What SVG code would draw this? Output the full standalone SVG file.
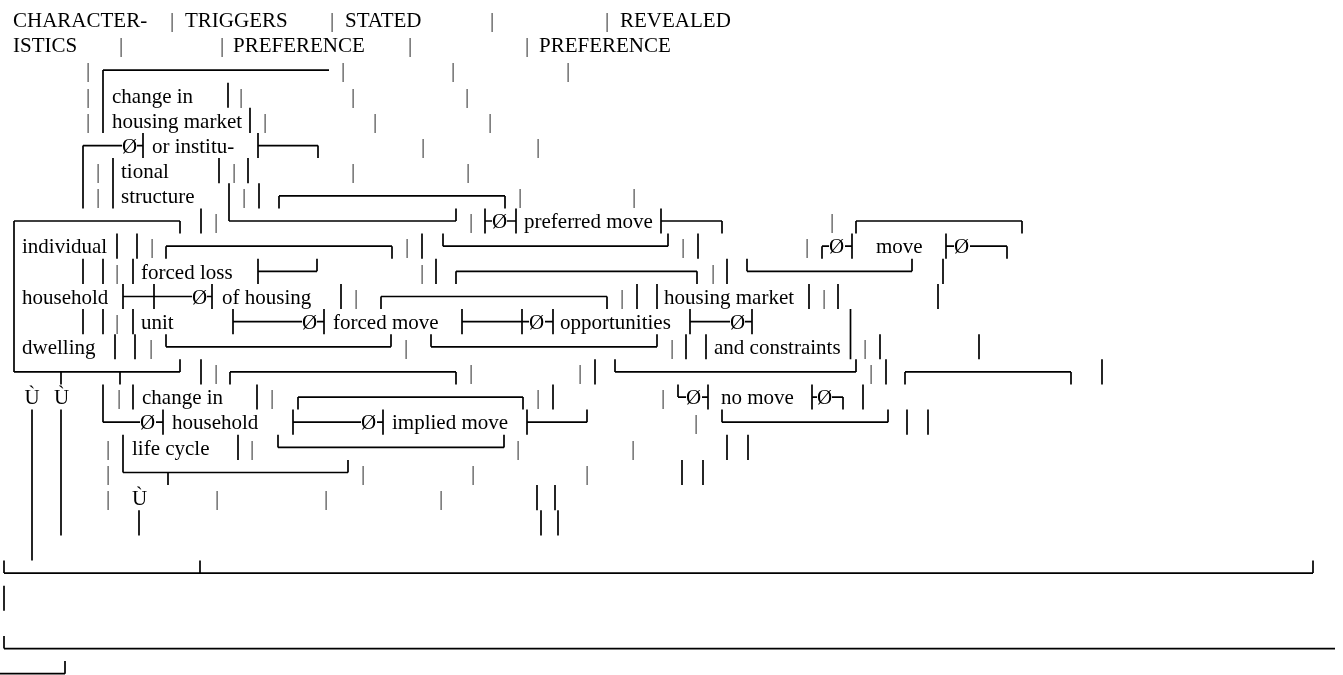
<svg xmlns="http://www.w3.org/2000/svg" width="1343" height="675" viewBox="0 0 1343 675">
<style>
.t{font-family:'Liberation Serif','Times New Roman','DejaVu Serif',serif;font-size:21px;fill:#000}
.p{text-anchor:middle;fill:#333}
.c{stroke:#000;stroke-width:1.7;fill:none}
</style>
<defs>
<filter id="gray" filterUnits="userSpaceOnUse" x="0" y="0" width="1343" height="675"><feOffset dx="0" dy="0"/></filter>
</defs>
<rect width="1343" height="675" fill="#fff"/>
<g filter="url(#gray)">
<g id="headers" class="t">
<g id="h-characteristics"><text x="13" y="27">CHARACTER-</text><text x="13" y="52.2">ISTICS</text></g>
<g id="h-triggers"><text x="185" y="27">TRIGGERS</text></g>
<g id="h-stated"><text x="345" y="27">STATED</text><text x="233" y="52.2">PREFERENCE</text></g>
<g id="h-revealed"><text x="620" y="27">REVEALED</text><text x="539" y="52.2">PREFERENCE</text></g>
</g>
<g id="n-housing-market-change" class="t"><text x="112" y="102.5">change in</text><text x="112" y="127.6">housing market</text><text x="152" y="152.8">or institu-</text><text x="121" y="177.9">tional</text><text x="121" y="203.1">structure</text></g>
<g id="n-preferred-move" class="t"><text x="524" y="228.2">preferred move</text></g>
<g id="n-characteristics" class="t"><text x="22" y="253.4">individual</text><text x="22" y="303.7">household</text><text x="22" y="354">dwelling</text></g>
<g id="n-move" class="t"><text x="876" y="253.4">move</text></g>
<g id="n-forced-loss" class="t"><text x="141" y="278.5">forced loss</text><text x="222" y="303.7">of housing</text><text x="141" y="328.8">unit</text></g>
<g id="n-housing-market" class="t"><text x="664" y="303.7">housing market</text><text x="560" y="328.8">opportunities</text><text x="714" y="354">and constraints</text></g>
<g id="n-forced-move" class="t"><text x="333" y="328.8">forced move</text></g>
<g id="n-life-cycle" class="t"><text x="142" y="404.3">change in</text><text x="172" y="429.4">household</text><text x="132" y="454.6">life cycle</text></g>
<g id="n-no-move" class="t"><text x="721" y="404.3">no move</text></g>
<g id="n-implied-move" class="t"><text x="392" y="429.4">implied move</text></g>
<g id="connectors">
<path class="c" d="M103 70.1H329M83 145.6H122M137 145.6H143M258 145.6H318M279 195.9H505M14 221H180M229 221H456M485 221H492M507 221H516M661 221H722M856 221H1022M166 246.2H392M443 246.2H668M822 246.2H829M845 246.2H852M946 246.2H954M970 246.2H1007M258 271.3H317M456 271.3H697M747 271.3H912M123 296.5H192M207 296.5H212M381 296.5H607M233 321.6H302M317 321.6H324M462 321.6H529M545 321.6H553M690 321.6H730M745 321.6H752M166 346.8H391M431 346.8H657M14 371.9H180M230 371.9H456M615 371.9H856M905 371.9H1071M298 397.1H523M678 397.1H686M702 397.1H708M812 397.1H817M832 397.1H843M103 422.2H140M156 422.2H163M293 422.2H361M377 422.2H383M527 422.2H587M722 422.2H888M278 447.4H504M123 472.5H348M4 573.1H1313M4 648.6H1335M0 673.7H65"/>
<path class="c" d="M103 70.1V133M228 82.7V107.8M250 107.8V133M83 145.6V208.4M143 133V158.1M258 133V158.1M318 145.6V158.1M113 158.1V208.4M219 158.1V183.3M248 158.1V183.3M229 183.3V221M259 183.3V208.4M279 195.9V208.4M505 195.9V208.4M14 221V371.9M180 221V233.6M201 208.4V233.6M456 208.4V221M485 208.4V233.6M516 208.4V233.6M661 208.4V233.6M722 221V233.6M856 221V233.6M1022 221V233.6M117 233.6V258.7M137 233.6V258.7M166 246.2V258.7M392 246.2V258.7M422 233.6V258.7M443 233.6V246.2M668 233.6V246.2M698 233.6V258.7M822 246.2V258.7M852 233.6V258.7M946 233.6V258.7M1007 246.2V258.7M83 258.7V283.9M103 258.7V283.9M133 258.7V283.9M258 258.7V283.9M317 258.7V271.3M436 258.7V283.9M456 271.3V283.9M697 271.3V283.9M727 258.7V283.9M747 258.7V271.3M912 258.7V271.3M943 258.7V283.9M123 283.9V309M154 283.9V309M212 283.9V309M341 283.9V309M381 296.5V309M607 296.5V309M637 283.9V309M657 283.9V309M809 283.9V309M838 283.9V309M938 283.9V309M83 309V334.2M103 309V334.2M133 309V334.2M233 309V334.2M324 309V334.2M462 309V334.2M522 309V334.2M553 309V334.2M690 309V334.2M752 309V334.2M850.5 309V359.3M115 334.2V359.3M135 334.2V359.3M166 334.2V346.8M391 334.2V346.8M431 334.2V346.8M657 334.2V346.8M686 334.2V359.3M706 334.2V359.3M880 334.2V359.3M979 334.2V359.3M61 371.9V384.5M120 371.9V384.5M180 359.3V371.9M201 359.3V384.5M230 371.9V384.5M456 371.9V384.5M595 359.3V384.5M615 359.3V371.9M856 359.3V371.9M886 359.3V384.5M905 371.9V384.5M1071 371.9V384.5M1102 359.3V384.5M103 384.5V422.2M133 384.5V409.6M257 384.5V409.6M298 397.1V409.6M523 397.1V409.6M553 384.5V409.6M678 384.5V397.1M708 384.5V409.6M812 384.5V409.6M843 397.1V409.6M863 384.5V409.6M32 409.6V560.5M61 409.6V535.4M163 409.6V434.8M293 409.6V434.8M383 409.6V434.8M527 409.6V434.8M587 409.6V422.2M722 409.6V422.2M888 409.6V422.2M907 409.6V434.8M928 409.6V434.8M123 434.8V472.5M238 434.8V459.9M278 434.8V447.4M504 434.8V447.4M727 434.8V459.9M748 434.8V459.9M168 472.5V485.1M348 459.9V472.5M682 459.9V485.1M703 459.9V485.1M537 485.1V510.2M555 485.1V510.2M139 510.2V535.4M541 510.2V535.4M558 510.2V535.4M4 560.5V573.1M200 560.5V573.1M1313 560.5V573.1M4 585.7V610.8M4 636V648.6M65 661.1V673.7"/>
<g class="t">
<text x="122" y="152.8">Ø</text>
<text x="492" y="228.2">Ø</text>
<text x="829" y="253.4">Ø</text><text x="954" y="253.4">Ø</text>
<text x="192" y="303.7">Ø</text>
<text x="302" y="328.8">Ø</text><text x="529" y="328.8">Ø</text><text x="730" y="328.8">Ø</text>
<text x="686" y="404.3">Ø</text><text x="817" y="404.3">Ø</text>
<text x="140" y="429.4">Ø</text><text x="361" y="429.4">Ø</text>
<text x="24.5" y="404.3">Ù</text><text x="54" y="404.3">Ù</text>
<text x="132" y="504.9">Ù</text>
</g>
<g class="t p">
<text x="172" y="27">|</text><text x="332" y="27">|</text><text x="492" y="27">|</text><text x="607" y="27">|</text>
<text x="121" y="52.2">|</text><text x="222" y="52.2">|</text><text x="410" y="52.2">|</text><text x="527" y="52.2">|</text>
<text x="88" y="77.3">|</text><text x="343" y="77.3">|</text><text x="453" y="77.3">|</text><text x="568" y="77.3">|</text>
<text x="88" y="102.5">|</text><text x="241" y="102.5">|</text><text x="353" y="102.5">|</text><text x="467" y="102.5">|</text>
<text x="88" y="127.6">|</text><text x="265" y="127.6">|</text><text x="375" y="127.6">|</text><text x="490" y="127.6">|</text>
<text x="423" y="152.8">|</text><text x="538" y="152.8">|</text>
<text x="98" y="177.9">|</text><text x="234" y="177.9">|</text><text x="353" y="177.9">|</text><text x="468" y="177.9">|</text>
<text x="98" y="203.1">|</text><text x="244" y="203.1">|</text><text x="520" y="203.1">|</text><text x="634" y="203.1">|</text>
<text x="216" y="228.2">|</text><text x="471" y="228.2">|</text><text x="832" y="228.2">|</text>
<text x="152" y="253.4">|</text><text x="407" y="253.4">|</text><text x="683" y="253.4">|</text><text x="807" y="253.4">|</text>
<text x="117" y="278.5">|</text><text x="422" y="278.5">|</text><text x="713" y="278.5">|</text>
<text x="356" y="303.7">|</text><text x="622" y="303.7">|</text><text x="824" y="303.7">|</text>
<text x="117" y="328.8">|</text>
<text x="151" y="354">|</text><text x="406" y="354">|</text><text x="672" y="354">|</text><text x="865" y="354">|</text>
<text x="216" y="379.1">|</text><text x="471" y="379.1">|</text><text x="580" y="379.1">|</text><text x="871" y="379.1">|</text>
<text x="119" y="404.3">|</text><text x="272" y="404.3">|</text><text x="538" y="404.3">|</text><text x="663" y="404.3">|</text>
<text x="696" y="429.4">|</text>
<text x="108" y="454.6">|</text><text x="252" y="454.6">|</text><text x="518" y="454.6">|</text><text x="633" y="454.6">|</text>
<text x="108" y="479.7">|</text><text x="363" y="479.7">|</text><text x="473" y="479.7">|</text><text x="587" y="479.7">|</text>
<text x="108" y="504.9">|</text><text x="217" y="504.9">|</text><text x="326" y="504.9">|</text><text x="441" y="504.9">|</text>
</g>
</g>
</g>
</svg>
